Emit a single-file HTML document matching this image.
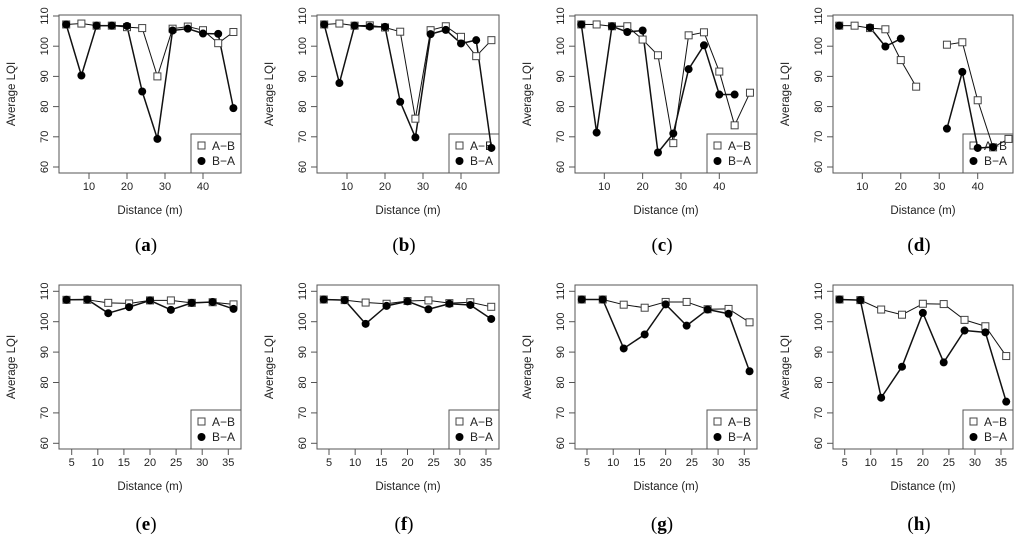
<!DOCTYPE html>
<html><head><meta charset="utf-8"><style>
body{margin:0;background:#fff;width:1024px;height:539px;overflow:hidden}
svg{display:block}
text{font-family:"Liberation Sans",sans-serif;fill:#222}
.cap{font-family:"Liberation Serif",serif;font-size:19px;fill:#000}
</style></head><body>
<svg id="chart" width="1024" height="539" xmlns="http://www.w3.org/2000/svg"></svg>
<script>
const panelLabels=["a","b","c","d","e","f","g","h"];
const xTop=[4,8,12,16,20,24,28,32,36,40,44,48];
const xBot=[4,8,12,16,20,24,28,32,36];
const ticksTop=[10,20,30,40];
const ticksBot=[5,10,15,20,25,30,35];
const yTicks=[60,70,80,90,100,110];
const abA=[107.2,107.5,106.8,106.8,106.3,106,90,105.8,106.5,105.3,101,104.7];
const baA=[107.2,90.3,106.8,106.8,106.7,85,69.3,105.2,105.8,104.2,104.1,79.5];
const abB=[107.2,107.5,106.8,106.9,106.2,104.8,76,105.3,106.6,103.1,96.7,102];
const baB=[107.2,87.8,106.8,106.5,106.4,81.6,69.8,104,105.4,100.9,102,66.3];
const abC=[107.2,107.2,106.6,106.6,102.2,97,67.9,103.6,104.6,91.6,73.8,84.6];
const baC=[107.2,71.4,106.6,104.7,105.2,64.8,71.1,92.4,100.3,84,84,null];
const abD=[106.8,106.8,106,105.6,95.4,86.6,null,100.5,101.3,82.1,66.5,69.3];
const baD=[106.8,null,106.2,99.9,102.5,null,null,72.7,91.5,66.3,66.6,null];
const abE=[107.2,107.2,106.2,106,107,107,106.2,106.4,105.7];
const baE=[107.2,107.3,102.8,104.8,107,103.9,106.2,106.5,104.2];
const abF=[107.3,107.1,106.3,105.9,106.8,107,106.1,106.4,104.9];
const baF=[107.3,107.1,99.3,105.2,106.7,104.1,105.9,105.5,100.9];
const abG=[107.3,107.3,105.6,104.6,106.5,106.5,104.1,104.2,99.8];
const baG=[107.3,107.3,91.2,95.8,105.7,98.7,104,102.6,83.7];
const abH=[107.3,107.1,104,102.3,105.9,105.8,100.6,98.5,88.7];
const baH=[107.3,107.1,75,85.2,102.9,86.6,97.1,96.5,73.7];

const NS="http://www.w3.org/2000/svg";
const svg=document.getElementById('chart');
function mk(tag,attrs,parent){const e=document.createElementNS(NS,tag);for(const k in attrs)e.setAttribute(k,attrs[k]);(parent||svg).appendChild(e);return e;}

const panels=[
 {ab:abA,ba:baA,xs:xTop,ticks:ticksTop,bl:59,br:241,xa:[10,89],xb:[40,203],top:true},
 {ab:abB,ba:baB,xs:xTop,ticks:ticksTop,bl:317,br:499,xa:[10,347],xb:[40,461],top:true},
 {ab:abC,ba:baC,xs:xTop,ticks:ticksTop,bl:575,br:757,xa:[10,604.3],xb:[40,719.3],top:true},
 {ab:abD,ba:baD,xs:xTop,ticks:ticksTop,bl:833,br:1013,xa:[10,862.3],xb:[40,977.7],top:true},
 {ab:abE,ba:baE,xs:xBot,ticks:ticksBot,bl:59,br:241,xa:[5,71.7],xb:[35,228.3],top:false},
 {ab:abF,ba:baF,xs:xBot,ticks:ticksBot,bl:317,br:499,xa:[5,329],xb:[35,486],top:false},
 {ab:abG,ba:baG,xs:xBot,ticks:ticksBot,bl:575,br:757,xa:[5,587],xb:[35,744.3],top:false},
 {ab:abH,ba:baH,xs:xBot,ticks:ticksBot,bl:833,br:1013,xa:[5,844.7],xb:[35,1001],top:false}
];

panels.forEach((p,i)=>{
 const bt=p.top?15:285, bb=p.top?173:449;
 const y110=p.top?16:291.3, y60=p.top?167:443.3;
 const sy=v=>y60+(v-60)*(y110-y60)/50;
 const sx=v=>p.xa[1]+(v-p.xa[0])*(p.xb[1]-p.xa[1])/(p.xb[0]-p.xa[0]);
 const g=mk('g',{});
 
 
 const box=mk('rect',{x:p.bl,y:bt,width:p.br-p.bl,height:bb-bt,fill:'none',stroke:'#555','stroke-width':1},g);
 
 
 yTicks.forEach(t=>{
  const y=sy(t);
  mk('line',{x1:p.bl-6,x2:p.bl,y1:y,y2:y,stroke:'#555'},g);
  const tx=mk('text',{x:0,y:0,transform:`translate(${p.bl-11},${y}) rotate(-90)`,'text-anchor':'middle','font-size':11},g);
  tx.textContent=t;
  
  
 });
 const yl=mk('text',{x:0,y:0,transform:`translate(${p.bl-44},${(bt+bb)/2}) rotate(-90)`,'text-anchor':'middle','font-size':11.5},g);
 yl.textContent='Average LQI';
 
 
 p.ticks.forEach(t=>{
  const x=sx(t);
  mk('line',{x1:x,x2:x,y1:bb,y2:bb+6,stroke:'#555'},g);
  const tx=mk('text',{x:x,y:bb+17,'text-anchor':'middle','font-size':11},g);
  tx.textContent=t;
  
  
 });
 const xl=mk('text',{x:(p.bl+p.br)/2,y:bb+41,'text-anchor':'middle','font-size':11.5},g);
 xl.textContent='Distance (m)';
 
 
 const cap=mk('text',{x:(p.bl+p.br)/2-4,y:p.top?251:530,'text-anchor':'middle','class':'cap'},g);
 cap.innerHTML='(<tspan font-weight="bold">'+panelLabels[i]+'</tspan>)';
 
 
 // legend (drawn first so data overlays it)
 const lx=p.br-50, ly=p.top?134:410;
 const lg=mk('g',{},g);
 
 
 mk('rect',{x:lx,y:ly,width:p.br-lx,height:bb-ly,fill:'#fff',stroke:'#555'},lg);
 mk('rect',{x:lx+7,y:ly+8,width:7,height:7,fill:'#fff',stroke:'#444'},lg);
 mk('circle',{cx:lx+10.5,cy:ly+27,r:4,fill:'#000'},lg);
 const t1=mk('text',{x:lx+21,y:ly+16,'font-size':12},lg);t1.textContent='A−B';
 
 
 const t2=mk('text',{x:lx+21,y:ly+31,'font-size':12},lg);t2.textContent='B−A';
 
 
 function drawLine(vals,w){
  for(let k=1;k<vals.length;k++){
   if(vals[k]==null||vals[k-1]==null)continue;
   mk('line',{x1:sx(p.xs[k-1]),y1:sy(vals[k-1]),x2:sx(p.xs[k]),y2:sy(vals[k]),stroke:'#111','stroke-width':w},g);
  }
 }
 drawLine(p.ab,1);
 drawLine(p.ba,1.5);
 p.ab.forEach((v,k)=>{if(v==null)return;
  const r=mk('rect',{x:sx(p.xs[k])-3.5,y:sy(v)-3.5,width:7,height:7,fill:'#fff',stroke:'#444','stroke-width':1},g);
  
  
 });
 p.ba.forEach((v,k)=>{if(v==null)return;
  const c=mk('circle',{cx:sx(p.xs[k]),cy:sy(v),r:4,fill:'#000'},g);
  
  
 });
});
</script>
</body></html>
